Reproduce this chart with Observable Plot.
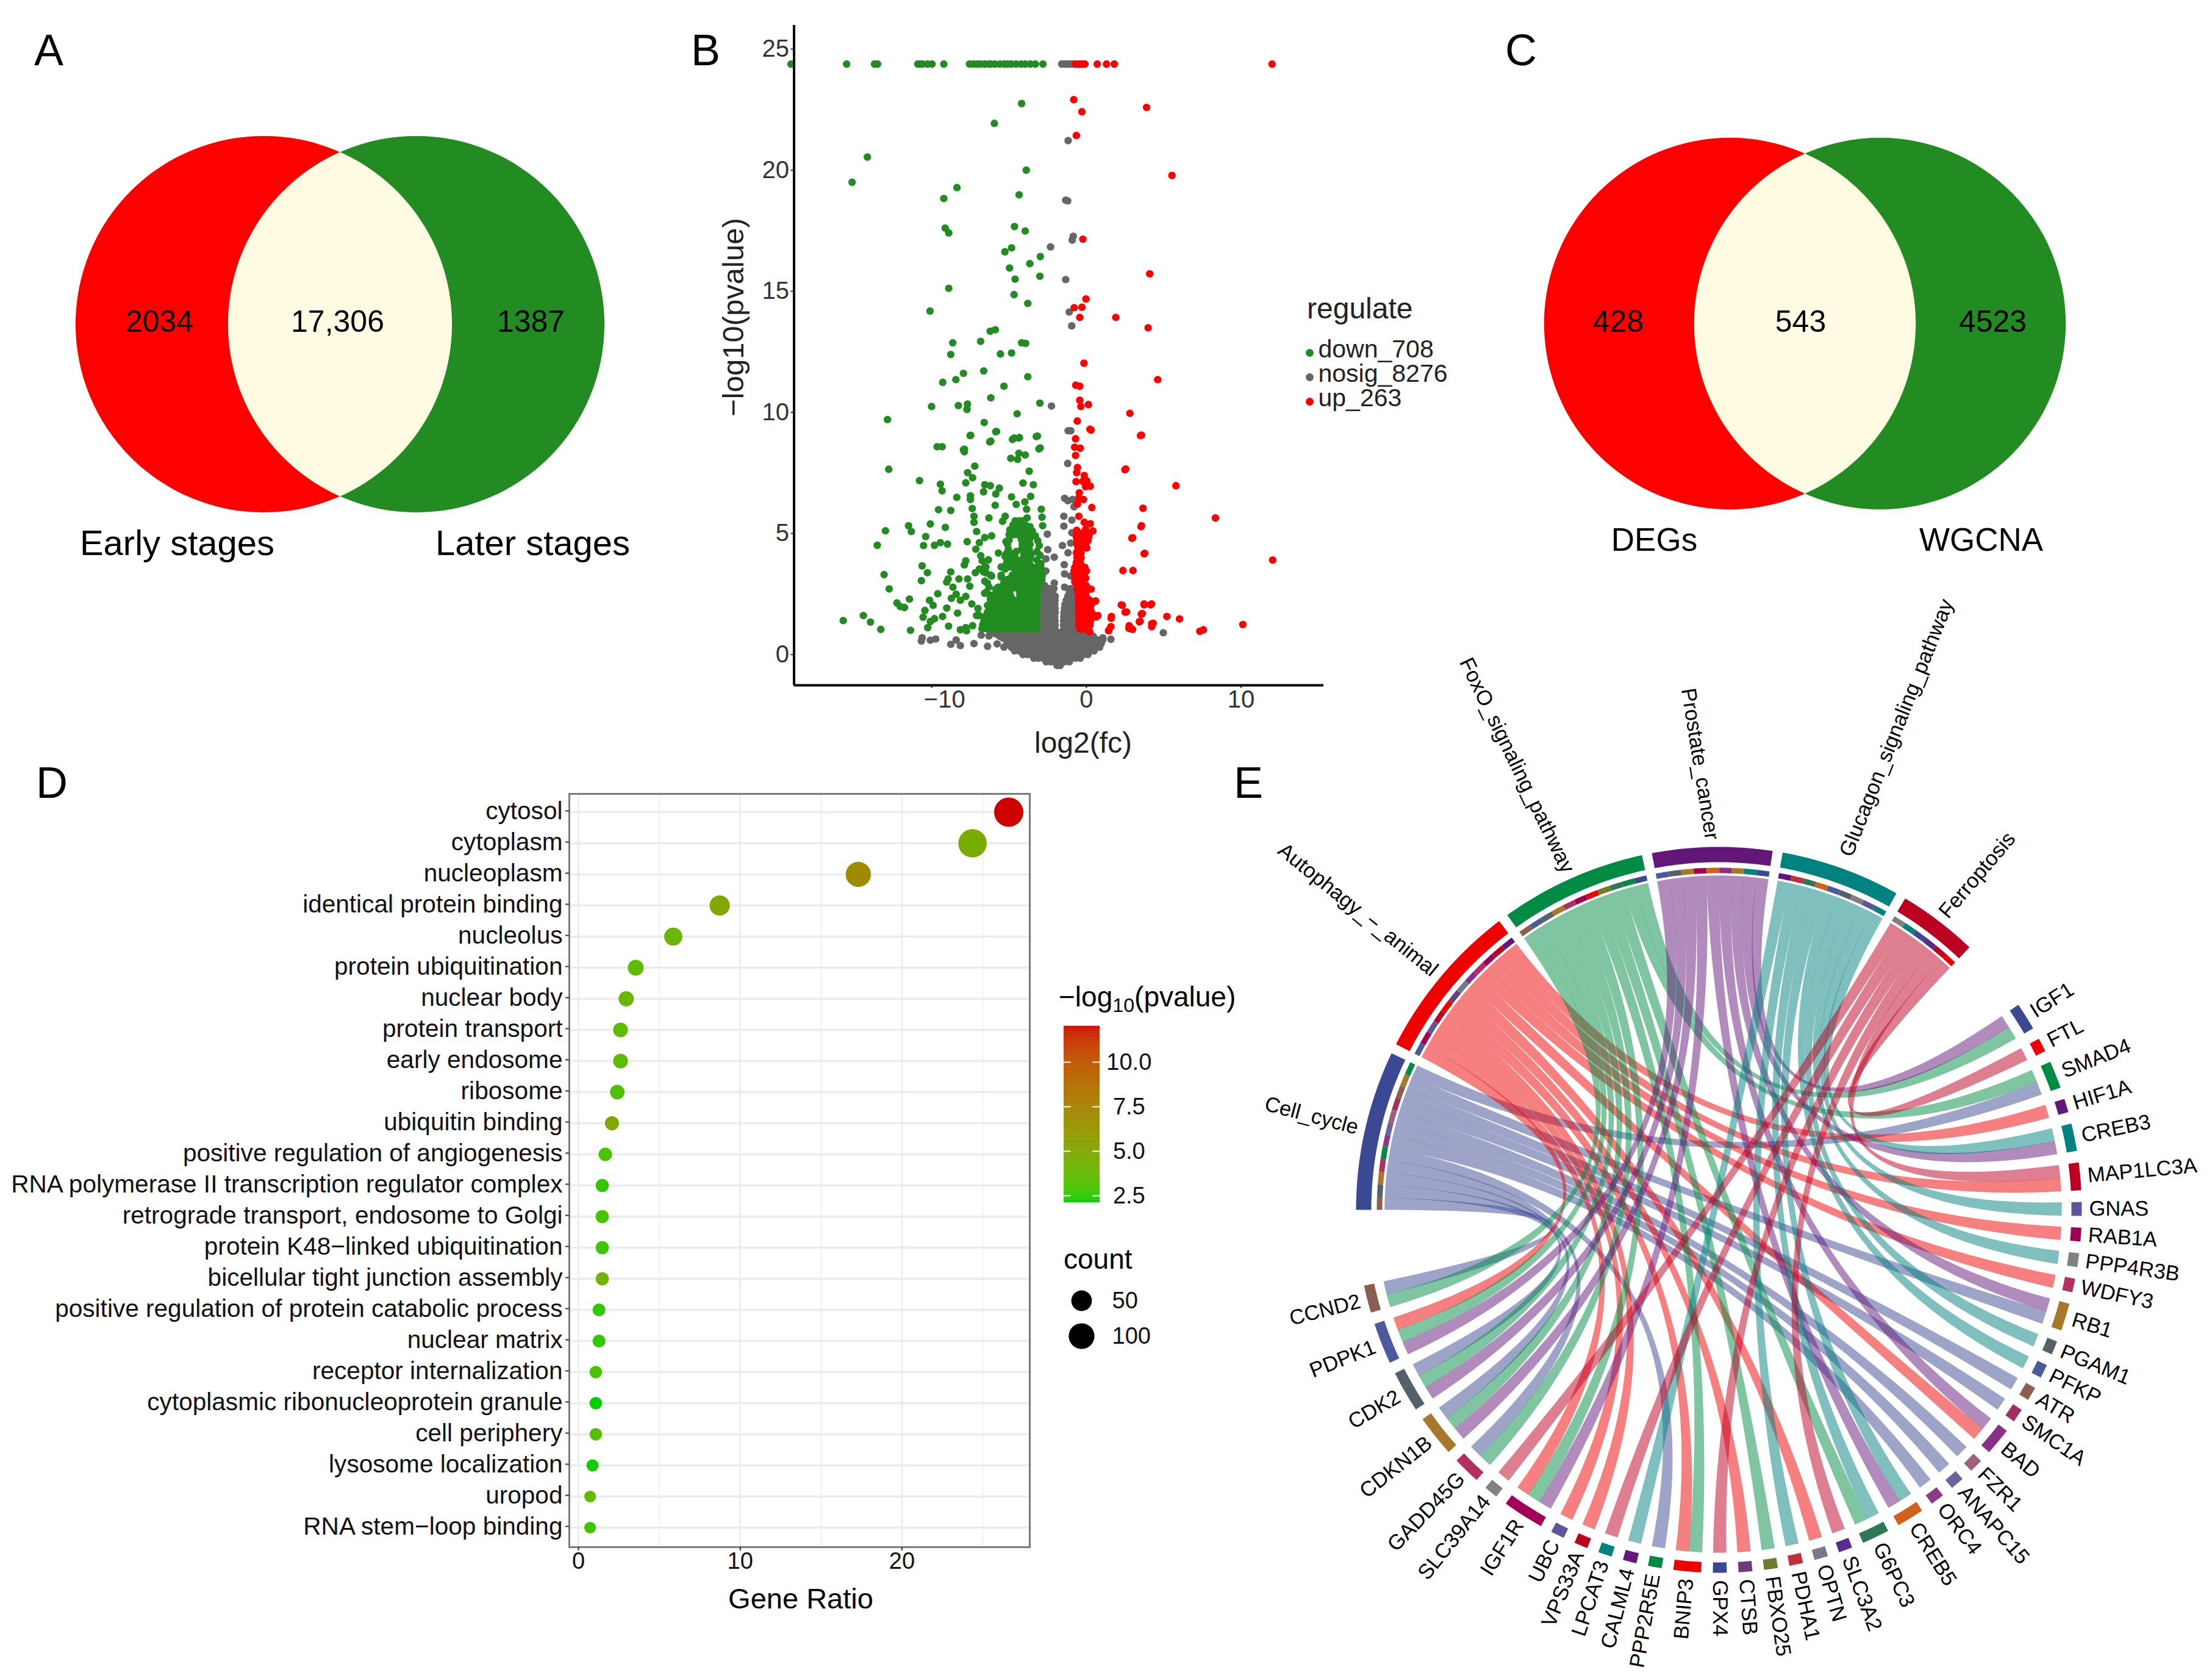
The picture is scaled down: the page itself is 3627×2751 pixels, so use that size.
<!DOCTYPE html>
<html><head><meta charset="utf-8">
<style>
html,body{margin:0;padding:0;background:#fff}
#fig{position:relative;width:3627px;height:2751px;overflow:hidden;font-family:"Liberation Sans",Arial,sans-serif;background:#fff}
#fig svg{position:absolute;overflow:visible}
.lbl{position:absolute;white-space:nowrap;line-height:1}
.lbl sub{font-size:.7em;vertical-align:-.28em;line-height:0}
</style>
<script src="https://cdn.jsdelivr.net/npm/d3@7"></script>
<script src="https://cdn.jsdelivr.net/npm/@observablehq/plot@0.6"></script>
</head><body><div id="fig"></div>
<script>
// ---------- Panel A / C
const vennAValues = [2034, "17,306", 1387];
const vennANames = ["Early stages", "Later stages"];
const vennCValues = [428, 543, 4523];
const vennCNames = ["DEGs", "WGCNA"];

// ---------- Panel B (log2 fc, -log10 p)
const regulateNames = ["down_708", "nosig_8276", "up_263"];
const regulateColors = ["#228B22", "#666666", "#FF0000"];
const topRowY = 24.38;
const topDownX = [-19.1,-15.5,-13.7,-13.5,-10.9,-10.75,-10.6,-10.27,-9.98,-9.22,-7.56,-7.3,-7.05,-6.84,-6.57,-6.3,-6.18,-5.92,-5.59,-5.3,-5.1,-4.87,-4.55,-4.22,-3.96,-3.63,-3.3,-2.81];
const topNosigX = [-1.6,-1.45,-1.3,-1.15,-1,-0.85];
const topUpX = [-0.7,-0.5,-0.3,-0.1,0.7,1.3,1.8,12];
const downPoints = [
[-4.19,22.75],[-5.95,21.93],[-14.16,20.54],[-15.15,19.5],[-3.89,20],[-8.37,19.28],[-9.22,18.83],[-4.35,18.98],[-9.13,17.61],[-8.9,17.41],[-4.65,17.67],[-3.96,17.49],[-5.27,16.63],[-4.84,16.79],[-2.98,16.43],[-3.66,16.14],[-4.97,15.96],[-4.61,15.5],[-3.01,15.62],[-8.9,15.12],[-4.68,14.86],[-3.79,14.5],[-10.11,14.18],[-6.22,13.35],[-5.89,13.41],[-6.84,12.93],[-8.64,12.87],[-4.19,12.87],[-3.93,12.85],[-5.56,12.41],[-4.84,12.45],[-8.77,12.39],[-6.64,11.71],[-7.95,11.61],[-8.44,11.35],[-9.29,11.24],[-3.79,11.47],[-5.33,11.08],[-6.18,10.6],[-3.01,10.38],[-10.01,10.24],[-8.28,10.28],[-7.69,10.34],[-7.72,10.12],[-4.48,9.94],[-12.86,9.7],[-6.61,9.58],[-5.86,9.2],[-7.52,9.04],[-3.24,9],[-4.78,8.88],[-4.38,8.94],[-6.25,8.78],[-3.07,8.49],[-7.95,8.45],
[-15.72,1.4],[-14.42,1.61],[-13.96,1.34],[-13.29,1.04],[-11.37,1],[-12.78,7.65],[-10.79,7.18],[-9.44,7.03],[-9.33,6.76],[-8.38,6.49],[-9.56,5.98],[-8.77,5.95],[-7.71,4.66],[-9.12,5.25],[-10.09,5.39],[-11.5,5.32],[-11.32,5.08],[-12.99,5.11],[-13.52,4.51],[-10.39,4.87],[-10.53,4.5],[-9.82,4.51],[-9.44,4.62],[-8.98,4.56],[-10.62,3.66],[-10.28,3.38],[-10.67,3.05],[-13.08,3.3],[-12.75,2.71],[-11.44,2.29],[-12.25,2.13],[-12.03,1.98],[-11.76,1.94],[-9.61,2.51],[-10.14,2.24],[-9.91,2.03],[-10.44,1.82],[-10.56,1.54],[-9.82,1.48],[-10.09,1.36],[-10.26,1.11],[-9.3,1.57],[-9.03,1.92],[-8.33,1.71],[-8.91,1.17],[-8.15,1.02],[-7.8,1.11],[-7.36,1.19],[-7.75,0.98],[-8.77,3.41],[-8.94,3.12],[-9.03,2.99],[-8.24,3.12],[-8.63,2.78],[-8.42,2.49],[-8.73,2.32],[-8.15,2.24],[-7.8,2.4],[-7.68,3.12],[-7.54,2.82],[-7.41,2.09],[-7.01,1.9],[-7.1,1.61],[-6.92,1.61],[-7.8,3.87],[-7.89,3.7],[-7.15,4.35],[-6.92,4.62],[-7.1,5.08],[-6.57,4.83],[-6.13,4.9],[-6.3,5.64],[-7.27,5.71],[-7.27,5.46],[-7.38,6.03],[-7.5,6.55],[-7.5,6.4],[-5.9,6.16],[-5.86,6.63],[-5.63,6.87],[-6.65,6.72],[-6.57,7.01],[-6.21,6.97],[-4.54,6.2],[-4.84,6.51],[-4.1,7.08],[-3.43,7.01],[-3.61,6.53],[-3.98,6.3],[-3.87,6],[-2.92,6],[-2.87,5.67],[-2.83,5.32],[-3.84,5.64],[-5.42,5.5],[-5.25,5.71],[-7.22,7.78],[-7.68,7.51],[-7.36,7.3],[-7.8,7.09],[-3.7,7.57],[-4.89,8.1],[-4.37,8.31],[-3.96,8.24],[-4.45,8.06],[-2.99,8.53],[-3.17,9.02],[-4.67,8.94],[-4.33,8.96],[-6.18,8.81],[-5.81,9.21],[-7.48,9.05],[-7.89,8.48],[-7.89,8.37],[-9.65,8.58],[-9.33,8.58],
[-6.83,4.08],[-6.34,3.91],[-7.18,3.38],[-6.65,3.41],[-6.2,3.28],[-6.5,3.62],[-6.4,2.95],[-6.58,2.53],[-6.23,2.45],[-5.98,2.28],[-5.7,2.78],[-5.51,3.28],[-5.51,3.62],[-5.69,4.19],[-5.2,4.66],[-5.1,4.2],
[-6.74,3.87],[-6.57,3.62],[-6.92,3.53],[-6.48,3.37],[-6.13,3.24],[-6.57,3.03],[-6.3,2.78],[-6.48,2.57],[-6.04,2.45],[-5.69,2.28],[-5.86,2.7],[-5.51,3.2],[-5.25,3.53],[-5.16,3.79],[-5.25,4.04],[-4.98,4.2],[-4.54,4.25],[-4.54,3.87],[-6.39,2.03],[-6.21,2.28],
[-5.05,4.35],[-5.1,4.55],[-5,4.72],[-3.15,4.7],[-3.05,4.5],[-3.2,4.25],[-3,4.1],[-3.2,3.9],[-2.95,3.75],[-3.3,4.9],[-3.5,5.1],[-3.65,5.28]
];
const downRows = [
[1.06,-6.75,-6.42,-6.12,-5.8,-5.5,-5.18,-4.86,-4.55,-4.22,-3.9,-3.6,-3.38,-3.2],
[1.23,-6.7,-6.38,-6.05,-5.75,-5.42,-5.12,-4.8,-4.48,-4.18,-3.85,-3.55,-3.36,-3.2],
[1.4,-6.62,-6.3,-6,-5.7,-5.38,-5.05,-4.75,-4.42,-4.1,-3.8,-3.5,-3.3,-3.2],
[1.57,-6.55,-6.25,-5.95,-5.62,-5.3,-5,-4.7,-4.38,-4.05,-3.75,-3.45,-3.2],
[1.74,-6.4,-6.1,-5.8,-5.5,-5.2,-4.9,-4.6,-4.3,-4,-3.7,-3.4,-3.2],
[1.91,-6.3,-6,-5.72,-5.4,-5.1,-4.82,-4.5,-4.2,-3.9,-3.6,-3.3,-3.18],
[2.08,-6.15,-5.85,-5.55,-5.25,-4.95,-4.65,-4.35,-4.05,-3.75,-3.45,-3.18],
[2.25,-5.9,-5.6,-5.3,-5,-4.7,-4.4,-4.1,-3.8,-3.5,-3.18],
[2.42,-5.75,-5.45,-5.15,-4.9,-4.3,-4,-3.7,-3.4,-3.15],
[2.59,-5.6,-5.3,-5,-4.95,-4.32,-4.05,-3.75,-3.45,-3.15],
[2.76,-5.55,-5.25,-4.95,-4.62,-4.3,-4,-3.7,-3.4,-3.1],
[2.93,-5.35,-5.05,-4.75,-4.45,-4.15,-3.85,-3.55,-3.25,-2.98],
[3.1,-5.1,-4.8,-4.5,-4.2,-3.9,-3.6,-3.3,-3,-2.88],
[3.27,-4.8,-4.55,-4.25,-3.95,-3.65,-3.35,-3.05,-2.85],
[3.44,-4.6,-4.35,-4.05,-3.75,-3.45,-3.15,-2.9],
[3.61,-4.9,-4.4,-4.1,-3.8,-3.5,-3.2,-2.95],
[3.75,-5.05,-4.8,-4.5,-4.2,-3.95,-3.68],
[3.95,-5.1,-4.85,-4.55,-4.1,-3.9,-3.65],
[4.15,-5.2,-4.95,-4.65,-4.05,-3.8,-3.55],
[4.35,-4.2,-3.95,-3.7],
[4.55,-4.15,-3.9,-3.65],
[4.75,-4.2,-3.95,-3.68],
[4.95,-5,-4.7,-4.45,-4.2,-3.95,-3.7],
[5.15,-4.95,-4.65,-4.4,-4.15,-3.9],
[5.35,-4.75,-4.45,-4.2,-3.95],
[5.52,-4.6,-4.35,-4.1]
];
const nosigPoints = [
[-1.18,21.22],[-1.34,18.76],[-1.21,18.73],[-2.32,16.83],[-0.85,17.27],[-0.92,17.11],[-1.34,15.48],[-1.11,14.14],[-0.95,13.57],[-2.26,10.26],[-1.18,9.24],[-1.01,9.24],[-1.21,7.89],
[-10.67,0.56],[-10.62,0.69],[-10.09,0.59],[-9.74,0.64],[-8.77,0.42],[-8.42,0.6],[-8.15,0.37],[-7.27,0.45],[-6.39,0.34],[-6.8,0.8],[-6.3,0.77],[-5.86,0.85],[-5.77,0.44],[-5.33,0.31],[-5.42,0.69],[-5.25,0.9],[1.58,0.63],[1.06,0.69],[4.97,0.9],
[-1.41,2.78],[-1.43,3.71],[-1.41,3.33],[-1.02,3.24],[-0.94,3.24],[-1.19,4.2],[-1.02,4.6],[-0.94,5.03],[-1.46,5.71],[-1.46,5.3],[-0.94,5.55],[-1.41,6.45],[-1.2,6.35],[-0.8,6.1],[-1.55,4.5],[-2.5,4.33],[-2.62,3.95],[-2.08,4.02],[-2.62,3.45],[-2.53,4.97],[-2.08,2.95],[-2.7,2.85],[-0.9,6.4]
];
const nosigRows = [
[-0.45,-1.9,-1.7],
[-0.3,-2.6,-2.3,-2,-1.7,-1.4,-1.1],
[-0.15,-3.4,-3.1,-2.8,-2.5,-2.2,-1.9,-1.6,-1.3,-1,-0.7,-0.4],
[0,-4.1,-3.8,-3.5,-3.2,-2.9,-2.6,-2.3,-2,-1.7,-1.4,-1.1,-0.8,-0.5,-0.2,0.1],
[0.15,-4.65,-4.35,-4,-3.7,-3.4,-3.1,-2.8,-2.5,-2.2,-1.9,-1.6,-1.3,-1,-0.7,-0.4,-0.1,0.2,0.5],
[0.3,-4.85,-4.55,-4.2,-3.9,-3.6,-3.3,-3,-2.7,-2.4,-2.1,-1.8,-1.5,-1.2,-0.9,-0.6,-0.3,0,0.3,0.6,0.85],
[0.45,-5,-4.7,-4.4,-4.1,-3.8,-3.5,-3.2,-2.9,-2.6,-2.3,-2,-1.7,-1.4,-1.1,-0.8,-0.5,-0.2,0.1,0.4,0.7,0.95],
[0.6,-5.2,-4.9,-4.6,-4.3,-4,-3.7,-3.4,-3.1,-2.8,-2.5,-2.2,-1.9,-1.6,-1.3,-1,-0.7,-0.4,-0.1,0.2,0.5,0.8,1.05],
[0.75,-5.6,-5.2,-4.9,-4.6,-4.3,-4,-3.7,-3.4,-3.1,-2.8,-2.5,-2.2,-1.9,-1.6,-1.3,-1,-0.7,-0.4,-0.15,0.2,0.45],
[0.9,-6.1,-5.8,-5.5,-5.1,-4.7,-4.4,-4.1,-3.8,-3.5,-3.2,-2.9,-2.6,-2.3,-2,-1.75,-1.4,-1.1,-0.8,-0.5,-0.2,0.1],
[1.05,-2.78,-2.52,-2.27,-2.03,-1.47,-1.2,-0.95,-0.68],
[1.22,-2.8,-2.55,-2.28,-2.02,-1.48,-1.2,-0.93,-0.65],
[1.39,-2.8,-2.52,-2.25,-2.03,-1.47,-1.22,-0.95,-0.68],
[1.56,-2.78,-2.55,-2.3,-2.05,-1.46,-1.2,-0.92,-0.65],
[1.73,-2.8,-2.52,-2.26,-2.02,-1.45,-1.18,-0.94,-0.68],
[1.9,-2.78,-2.5,-2.25,-2.03,-1.42,-1.15,-0.9,-0.65],
[2.07,-2.76,-2.52,-2.27,-2.05,-1.38,-1.12,-0.88,-0.66],
[2.24,-2.75,-2.48,-2.23,-2.03,-1.3,-1.08,-0.85,-0.62],
[2.41,-2.74,-2.48,-2.2,-2.02,-1.2,-0.98,-0.75],
[2.58,-2.72,-2.46,-2.2,-1.1,-0.9,-0.7],
[2.72,-2.66,-2.4,-2.1,-1.02,-0.8]
];
const upPoints = [
[-0.82,22.91],[3.89,22.59],[-0.29,22.41],[-0.65,21.43],[5.53,19.78],[-0.23,17.15],[4.09,15.72],[-0.03,14.68],[-0.79,14.32],[-0.29,14.34],[-0.43,13.92],[1.9,13.92],[3.99,13.49],[-0.16,12.03],[4.61,11.35],[-0.69,11.12],[-0.43,11.08],[-0.43,10.5],[0.13,10.32],[-0.36,10.24],[2.81,9.96],[-0.59,9.64],[0.23,9.3],[3.5,9.04],[2.49,7.63],[5.79,6.97],[3.66,6.04],[8.34,5.64],[3.53,5.28],[2.94,4.8],[3.73,4.16],[12.04,3.9],[2.36,3.47],[3.01,3.47],[2.26,2.05],[2.5,1.75],[3.73,2.05],[4.15,2.05],[3.55,1.67],[5.2,1.57],[6.02,1.47],[10.11,1.24],[7.56,1.02],[7.33,0.96],[4.22,1.27],[2.75,1.08],[2.98,1.04],[3.42,1.35],[4.22,1.15],[1.6,1.5],[1.44,1],[0.62,1.55],
[0.3,9.27],[3.56,9.06],[-0.7,8.91],[-0.76,8.56],[-0.4,8.52],[-0.7,8.22],[2.54,7.66],[-0.58,7.72],[-0.63,7.51],[-0.14,7.39],[-0.67,7.14],[-0.23,7.15],[0.03,7.17],[0.25,6.95],[-0.05,6.93],[-0.46,6.68],[-0.49,6.47],[-0.19,6.4],[-0.58,6.21],[0.35,6.07],[-0.49,5.71],[-0.14,5.46],[0.25,5.4],[0.42,5.1],[-0.05,5.17],[-0.63,5.13],[3.56,5.32],[2.99,4.82],[3.77,4.18],[0.6,2.21],[2.32,2.03],[2.59,1.76],[3.73,2.09],[4.21,2.09],[3.61,1.69],[3.47,1.37],[4.31,1.29],[2.76,1.19],[1.62,1.57],[1.58,1.15],[1.44,0.98],[0.74,1.61],[0.21,0.94],[0.3,2.7]
];
const upRows = [
[1.05,-0.42,-0.15,0.1],[1.2,-0.5,-0.25,0,0.22],[1.35,-0.5,-0.25,0,0.25],[1.5,-0.48,-0.2,0.05,0.3],[1.65,-0.5,-0.25,0,0.25,0.42],[1.8,-0.48,-0.2,0.08,0.3],[1.95,-0.5,-0.25,0,0.25],[2.1,-0.5,-0.22,0.05,0.35],[2.25,-0.52,-0.25,0,0.2],[2.4,-0.5,-0.2,-0.02],[2.55,-0.55,-0.25,-0.05],[2.7,-0.6,-0.3,-0.1],[2.85,-0.5,-0.25,-0.02],[3,-0.75,-0.45,-0.2],[3.15,-0.7,-0.4,-0.05],[3.3,-0.75,-0.45,-0.15],[3.45,-0.8,-0.5,-0.2,0],[3.6,-0.75,-0.45,-0.1],[3.8,-0.65,-0.4],[4,-0.6,-0.35],[4.2,-0.65,-0.35],[4.4,-0.55,-0.25,0.02],[4.55,-0.6,-0.3,-0.05],[4.7,-0.6,-0.35,-0.1,0.1],[4.85,-0.65,-0.35,-0.05,0.15],[5,-0.6,-0.3,-0.05,0.2]
];

// ---------- Panel D
const goTerms = ["cytosol","cytoplasm","nucleoplasm","identical protein binding","nucleolus","protein ubiquitination","nuclear body","protein transport","early endosome","ribosome","ubiquitin binding","positive regulation of angiogenesis","RNA polymerase II transcription regulator complex","retrograde transport, endosome to Golgi","protein K48\u2212linked ubiquitination","bicellular tight junction assembly","positive regulation of protein catabolic process","nuclear matrix","receptor internalization","cytoplasmic ribonucleoprotein granule","cell periphery","lysosome localization","uropod","RNA stem\u2212loop binding"];
const geneRatio = [26.6,24.36,17.3,8.73,5.86,3.54,2.95,2.6,2.6,2.4,2.07,1.66,1.47,1.47,1.47,1.47,1.27,1.27,1.07,1.07,1.07,0.87,0.72,0.72];
const goCount = [144,132,94,47,32,19,16,14,14,13,11,9,8,8,8,8,7,7,6,6,6,5,4,4];
const goLogP = [12,4.6,7,5,3.9,3.5,3.9,3.5,3.5,3.1,5,2.9,2.5,2.9,2.7,4.3,2.5,2.5,2.9,1.9,3.3,2.2,3.6,2.7];
const colorTicks = [2.5,5,7.5,10];
const countTicks = [50,100];

// ---------- Panel E
const pathways = ["Cell_cycle","Autophagy_\u2212_animal","FoxO_signaling_pathway","Prostate_cancer","Glucagon_signaling_pathway","Ferroptosis"];
const pathwayColors = ["#3B4992","#EE0000","#008B45","#631879","#008280","#BB0021"];
const genes = ["IGF1","FTL","SMAD4","HIF1A","CREB3","MAP1LC3A","GNAS","RAB1A","PPP4R3B","WDFY3","RB1","PGAM1","PFKP","ATR","SMC1A","BAD","FZR1","ANAPC15","ORC4","CREB5","G6PC3","SLC3A2","OPTN","PDHA1","FBXO25","CTSB","GPX4","BNIP3","PPP2R5E","CALML4","LPCAT3","VPS33A","UBC","IGF1R","SLC39A14","GADD45G","CDKN1B","CDK2","PDPK1","CCND2"];
const geneColors = ["#3B4992","#EE0000","#008B45","#631879","#008280","#BB0021","#5F559B","#A20056","#808180","#B03060","#A8782A","#556068","#4B5A9B","#8B5E50","#A0305F","#8B2E86","#A0607E","#66669A","#8B3A88","#D2611C","#2E7855","#5A2C8A","#78788C","#C0303A","#6E7E30","#6A3D7A","#3B4992","#EE0000","#008B45","#631879","#008280","#BB0021","#5F559B","#A20056","#808180","#B03060","#A8782A","#556068","#4B5A9B","#8B5E50"];
const geneLinks = [[3,2],[5],[2,0],[1],[4,3],[5,1],[4],[1],[4],[1],[3,0],[4],[4],[0],[0],[3,1],[0],[0],[0],[4,3],[4,2],[5],[1],[4],[2],[1],[5],[2,1],[0],[4],[5],[1],[1],[3,2,1],[5],[2,0],[3,2,0],[3,2,0],[3,2,1],[2,0]];
const pathwayLabelTilt = [2,-1,-2,-8,2,3];
const pathwayLabelPush = [0,0,0,0,10,0];

// ---------- helpers
const fig = document.getElementById("fig");
const FONT = '"Liberation Sans",Arial,sans-serif';
function place(svg, left, top){ svg.style.left = left+"px"; svg.style.top = top+"px"; fig.appendChild(svg); return svg; }
function lbl(html,x,y,size,o={}){
  const d=document.createElement("div"); d.className="lbl"; d.innerHTML=html;
  d.style.left=x+"px"; d.style.top=y+"px"; d.style.fontSize=size+"px"; d.style.color=o.color||"#000";
  const tx=o.anchor==="start"?"0":"-50%";
  d.style.transform=`translate(${tx},-50%)`+(o.rot?` rotate(${o.rot}deg)`:"");
  fig.appendChild(d);
}
const baseStyle = {fontFamily:FONT, background:"transparent", maxWidth:"none", height:"auto", overflow:"visible"};
const rows2pts = rows => rows.flatMap(([y,...xs]) => xs.map(x => [x,y]));

// ---------- Venn panels
function venn({left,top,width,height,circles,r,values,valueX,valueY,names,nameX,nameY,nameSize,valueSize}){
  const [a,b]=circles, d=(b.x-a.x)/2, h=Math.sqrt(r*r-d*d), th=Math.atan2(h,d), cy=a.y, n=60, lens=[];
  for(let i=0;i<=n;i++){const t=-th+2*th*i/n; lens.push({x:a.x+r*Math.cos(t),y:cy+r*Math.sin(t)});}
  for(let i=0;i<=n;i++){const t=Math.PI-th+2*th*i/n; lens.push({x:b.x+r*Math.cos(t),y:cy+r*Math.sin(t)});}
  place(Plot.plot({width,height,margin:0,style:baseStyle,
    x:{domain:[0,width],range:[0,width],axis:null}, y:{domain:[0,height],range:[0,height],axis:null},
    marks:[
      Plot.dot(circles,{x:"x",y:"y",r,fill:"c"}),
      Plot.line(lens,{x:"x",y:"y",fill:"#FEFBE2",stroke:"none"}),
      Plot.text(values,{x:(d,i)=>valueX[i],y:()=>valueY,text:d=>String(d),fontSize:valueSize,fill:"#000"}),
      Plot.text(names,{x:(d,i)=>nameX[i],y:()=>nameY,text:d=>d,fontSize:nameSize,fill:"#000"})
    ]}),left,top);
}
venn({left:0,top:0,width:1100,height:1000,r:308.6,circles:[{x:432,y:531,c:"#FF0000"},{x:682,y:531,c:"#228B22"}],
  values:vennAValues,valueX:[261,553,870],valueY:527,valueSize:50,names:vennANames,nameX:[290,873],nameY:891,nameSize:58});
venn({left:2430,top:0,width:1000,height:1000,r:304.7,circles:[{x:406,y:530,c:"#FF0000"},{x:652,y:530,c:"#228B22"}],
  values:vennCValues,valueX:[223,522,837],valueY:527,valueSize:50,names:vennCNames,nameX:[282,818],nameY:886,nameSize:53});

// ---------- Volcano
const vo = p => ({x:p[0],y:p[1]});
const nosigAll = [...nosigPoints, ...rows2pts(nosigRows), ...topNosigX.map(x=>[x,topRowY])].map(vo);
const downAll = [...downPoints, ...rows2pts(downRows), ...topDownX.map(x=>[x,topRowY])].map(vo);
const upAll = [...upPoints, ...rows2pts(upRows), ...topUpX.map(x=>[x,topRowY])].map(vo);
place(Plot.plot({width:1100,height:1250,marginLeft:201.5,marginRight:30,marginTop:41,marginBottom:127,style:baseStyle,
  x:{domain:[-18.9,15.34],label:null,axis:null}, y:{domain:[-1.27,25.98],label:null,axis:null},
  marks:[
    Plot.dot(nosigAll,{x:"x",y:"y",r:6.2,fill:regulateColors[1]}),
    Plot.dot(downAll,{x:"x",y:"y",r:6.2,fill:regulateColors[0]}),
    Plot.dot(upAll,{x:"x",y:"y",r:6.2,fill:regulateColors[2]}),
    Plot.axisX({ticks:[0,10],tickSize:5,tickPadding:3,fontSize:40,label:null,stroke:"#333",fill:"#333",strokeWidth:2}),
    Plot.axisX({ticks:[-10],tickSize:5,tickPadding:3,fontSize:40,label:null,stroke:"#333",text:null,strokeWidth:2}),
    Plot.axisX({ticks:[-10],tickSize:0,tickPadding:8,dx:21,fontSize:40,label:null,fill:"#333"}),
    Plot.axisY({ticks:[0,5,10,15,20,25],tickSize:5,tickPadding:3,fontSize:40,label:null,stroke:"#333",fill:"#333",strokeWidth:2}),
    Plot.ruleX([-18.9],{stroke:"#000",strokeWidth:4}),
    Plot.ruleY([-1.27],{stroke:"#000",strokeWidth:4})
  ]}),1100,0);
lbl("\u2212log10(pvalue)",1202,520,49,{rot:-90,color:"#222"});
lbl("log2(fc)",1776,1218,48,{color:"#222"});
lbl("regulate",2143,506,48,{anchor:"start",color:"#222"});
place(Plot.plot({width:300,height:200,margin:0,style:baseStyle,
  x:{domain:[0,300],range:[0,300],axis:null}, y:{type:"point",padding:0,domain:regulateNames,range:[38,118],axis:null},
  marks:[
    Plot.dot(regulateNames,{x:()=>17,y:d=>d,r:6.5,fill:(d,i)=>regulateColors[i]}),
    Plot.text(regulateNames,{x:()=>31,y:d=>d,dy:-6,text:d=>d,textAnchor:"start",fontSize:41,fill:"#222"})
  ]}),2130,540);

// ---------- Dot plot
const goData = goTerms.map((t,i)=>({t,x:geneRatio[i],c:goCount[i],p:goLogP[i]}));
const colorSpec = {type:"linear",domain:[2.12,12.02],range:["#00cd00","#cd0000"],interpolate:"lab"};
const rSpec = {type:"sqrt",domain:[4,144],range:[9.6,24]};
place(Plot.plot({width:1700,height:1400,marginLeft:933,marginRight:12,marginTop:31,marginBottom:134,style:baseStyle,
  x:{domain:[-0.566,27.9],label:null,axis:null},
  y:{type:"point",padding:0,domain:goTerms,range:[59.5,1236],label:null,axis:null},
  color:colorSpec, r:rSpec,
  marks:[
    Plot.ruleX([5,15,25],{stroke:"#EBEBEB",strokeWidth:1.2}),
    Plot.ruleX([0,10,20],{stroke:"#EBEBEB",strokeWidth:2.5}),
    Plot.ruleY(goTerms,{y:d=>d,stroke:"#EBEBEB",strokeWidth:3.5}),
    Plot.dot(goData,{x:"x",y:"t",r:"c",fill:"p"}),
    Plot.frame({stroke:"#7A7A7A",strokeWidth:3}),
    Plot.axisY({tickSize:6,tickPadding:5,fontSize:40.6,label:null,fill:"#111",stroke:"#333",strokeWidth:2,dy:-2}),
    Plot.axisX({ticks:[0,10,20],tickSize:6,tickPadding:3,fontSize:38,label:null,fill:"#111",stroke:"#333",strokeWidth:2})
  ]}),0,1270);
lbl("Gene Ratio",1313,2620,47);
lbl("\u2212log<sub>10</sub>(pvalue)",1736,1634,46,{anchor:"start"});
lbl("count",1744,2064,46,{anchor:"start"});
const barSteps = d3.range(2.12,12.02,0.05);
place(Plot.plot({width:150,height:289,margin:0,style:baseStyle,
  x:{domain:[0,1],range:[0,59],axis:null}, y:{domain:[2.12,12.02],range:[289,0],axis:null}, color:colorSpec,
  marks:[
    Plot.rect(barSteps,{x1:()=>0,x2:()=>1,y1:d=>d,y2:d=>d+0.06,fill:d=>d}),
    Plot.ruleY(colorTicks,{y:d=>d,x1:()=>0,x2:()=>0.2,stroke:"#fff",strokeWidth:2}),
    Plot.ruleY(colorTicks,{y:d=>d,x1:()=>0.8,x2:()=>1,stroke:"#fff",strokeWidth:2}),
    Plot.text(colorTicks,{x:()=>1.81,y:d=>d,text:d3.format(".1f"),fontSize:38,fill:"#111"})
  ]}),1744,1682);
place(Plot.plot({width:220,height:130,margin:0,style:baseStyle,
  x:{domain:[0,220],range:[0,220],axis:null}, y:{type:"point",padding:0,domain:countTicks,range:[32,90],axis:null}, r:rSpec,
  marks:[
    Plot.dot(countTicks,{x:()=>29,y:d=>d,r:d=>d,fill:"#000"}),
    Plot.text(countTicks,{x:()=>79,y:d=>d,text:d=>String(d),textAnchor:"start",fontSize:38,fill:"#111"})
  ]}),1744,2100);

// ---------- Chord
const rad = a => a*Math.PI/180;
const pt = (a,r) => ({x:r*Math.cos(rad(a)),y:r*Math.sin(rad(a))});
const W_G=2.2, GAP_G=1.86, W_T=2.13, GAP_T=1.6;
const R={outer:595,geneIn:578,termIn:570,stripOut:561,stripIn:552,ribT:548,ribG:562};
function arc(a1,a2,r){const n=Math.max(2,Math.ceil(Math.abs(a1-a2)));return d3.range(n+1).map(i=>pt(a1+(a2-a1)*i/n,r));}
function ring(a1,a2,r1,r2){return [...arc(a1,a2,r2),...arc(a2,a1,r1)];}
let a0=34.4; const geneArc=[], links=[];
genes.forEach((g,i)=>{const s=a0;geneLinks[i].forEach(t=>{links.push({g:i,t,g1:a0,g2:a0-W_G});a0-=W_G;});geneArc.push({g,i,a1:s,a2:a0,mid:(s+a0)/2});a0-=GAP_G;});
let b0=180; const termArc=[];
pathways.forEach((p,t)=>{const s=b0;links.filter(l=>l.t===t).sort((u,v)=>v.g-u.g).forEach(l=>{l.t1=b0;l.t2=b0-W_T;b0-=W_T;});termArc.push({p,t,a1:s,a2:b0,mid:(s+b0)/2});b0-=GAP_T;});
function bez(p0,p1){const n=40;return d3.range(1,n).map(i=>{const t=i/n,u=1-t;return {x:u*u*p0.x+t*t*p1.x,y:u*u*p0.y+t*t*p1.y};});}
const ribbons=[];
[...links].sort((u,v)=>u.t-v.t).forEach((l,i)=>{
  const tA=arc(l.t1,l.t2,R.ribT), gA=arc(l.g1,l.g2,R.ribG);
  [...tA,...bez(tA[tA.length-1],gA[0]),...gA,...bez(gA[gA.length-1],tA[0])].forEach(p=>ribbons.push({...p,id:"r"+i,color:pathwayColors[l.t]}));
});
const solids=[];
function addSolid(id,pts,color){pts.forEach(p=>solids.push({...p,id,color}));}
geneArc.forEach(a=>addSolid("g"+a.i,ring(a.a1,a.a2,R.geneIn,R.outer),geneColors[a.i]));
termArc.forEach(a=>addSolid("t"+a.t,ring(a.a1,a.a2,R.termIn,R.outer),pathwayColors[a.t]));
links.forEach((l,i)=>addSolid("s"+i,ring(l.t1,l.t2,R.stripIn,R.stripOut),geneColors[l.g]));
const labelAt=607;
const geneLab=geneArc.map(a=>{const right=Math.cos(rad(a.mid))>=0;return {...pt(a.mid,labelAt),text:a.g,right,rot:right?-a.mid:180-a.mid};});
const termLab=termArc.map(a=>{const right=Math.cos(rad(a.mid))>=0;return {...pt(a.mid,labelAt+pathwayLabelPush[a.t]),text:a.p,right,rot:(right?-a.mid:180-a.mid)+pathwayLabelTilt[a.t]};});
const labs=[...geneLab,...termLab];
place(Plot.plot({width:1647,height:1801,margin:0,style:baseStyle,
  x:{domain:[-838,809],range:[0,1647],axis:null}, y:{domain:[1033,-768],range:[0,1801],axis:null}, color:{type:"identity"},
  marks:[
    Plot.line(ribbons,{x:"x",y:"y",z:"id",fill:"color",fillOpacity:0.5,stroke:"color",strokeOpacity:0.12,strokeWidth:1,curve:"linear"}),
    Plot.line(solids,{x:"x",y:"y",z:"id",fill:"color",stroke:"none",curve:"linear"}),
    Plot.text(labs.filter(d=>d.right),{x:"x",y:"y",text:"text",rotate:"rot",textAnchor:"start",fontSize:34.5,fill:"#000"}),
    Plot.text(labs.filter(d=>!d.right),{x:"x",y:"y",text:"text",rotate:"rot",textAnchor:"end",fontSize:34.5,fill:"#000"})
  ]}),1980,950);

// ---------- Panel letters
[["A",56],["B",1133],["C",2468]].forEach(([t,x])=>lbl(t,x,82,72,{anchor:"start"}));
[["D",59],["E",2023]].forEach(([t,x])=>lbl(t,x,1283,72,{anchor:"start"}));
</script></body></html>
